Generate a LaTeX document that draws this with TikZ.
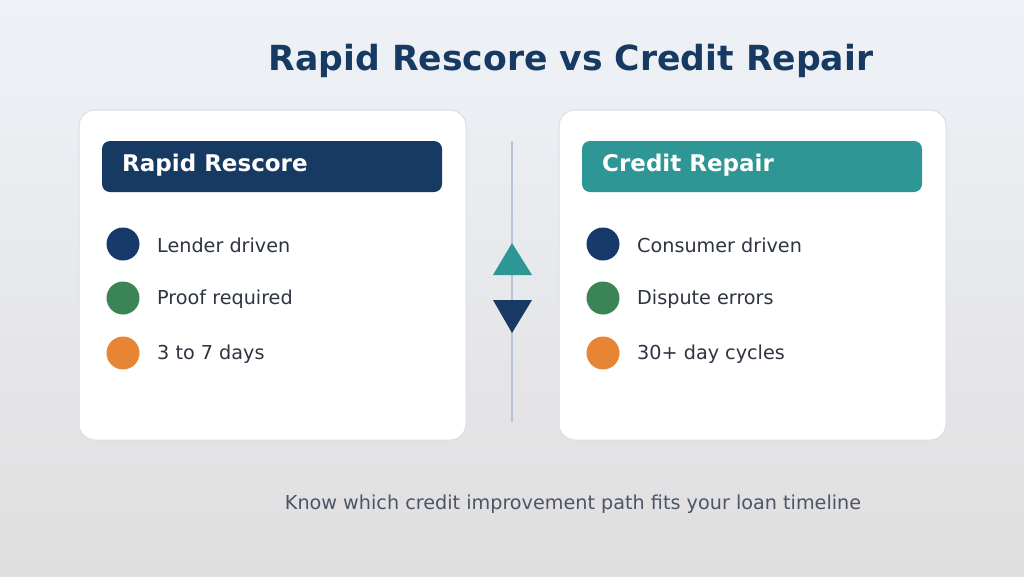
\documentclass[tikz,border=0pt]{standalone}
\usepackage{fontspec}
\setmainfont{DejaVu Sans}
\definecolor{bgtop}{HTML}{EEF2F7}
\definecolor{bgbot}{HTML}{E0DEDF}
\definecolor{navy}{HTML}{173A63}
\definecolor{teal}{HTML}{2E9694}
\definecolor{dotnavy}{HTML}{173A6A}
\definecolor{dotgreen}{HTML}{3A8456}
\definecolor{dotorange}{HTML}{E88535}
\definecolor{cardborder}{HTML}{D8DEE6}
\definecolor{divider}{HTML}{B8C4D4}
\definecolor{bodytext}{HTML}{2D3440}
\definecolor{subtext}{HTML}{4A5568}
\tikzset{
  card/.style={draw=cardborder, line width=1pt, fill=white, rounded corners=16pt},
  header/.style={rounded corners=8pt},
  headtext/.style={anchor=west, text=white, font=\fontsize{23}{27}\selectfont\bfseries, inner sep=0pt},
  dot/.style={circle, minimum size=33pt, inner sep=0pt},
  item/.style={anchor=west, text=bodytext, font=\fontsize{19.2}{23}\selectfont, inner sep=0pt},
}
\begin{document}
\begin{tikzpicture}[x=1pt,y=-1pt]
\shade[top color=bgtop, bottom color=bgbot] (0,0) rectangle (1024,576);
\useasboundingbox (0,0) rectangle (1024,576);
\node[text=navy, font=\fontsize{34.6}{40}\selectfont\bfseries] (title) at (571,61) {Rapid Rescore vs Credit Repair};
% cards
\path[card] (79,110) rectangle (466,440);
\path[card] (559,110) rectangle (946,440);
% headers
\path[header, fill=navy] (102,141) rectangle (442,192);
\path[header, fill=teal] (582,141) rectangle (922,192);
\node[headtext] (lh) at (122,165) {Rapid Rescore};
\node[headtext] (rh) at (602,165) {Credit Repair};
% left items
\node[dot, fill=dotnavy] (l1) at (123,244) {};
\node[dot, fill=dotgreen] (l2) at (123,298) {};
\node[dot, fill=dotorange] (l3) at (123,353) {};
\node[item] (lt1) at (157,245) {Lender driven};
\node[item] (lt2) at (157,299) {Proof required};
\node[item] (lt3) at (157,354) {3 to 7 days};
% right items
\node[dot, fill=dotnavy] (r1) at (603,244) {};
\node[dot, fill=dotgreen] (r2) at (603,298) {};
\node[dot, fill=dotorange] (r3) at (603,353) {};
\node[item] (rt1) at (637,245) {Consumer driven};
\node[item] (rt2) at (637,299) {Dispute errors};
\node[item] (rt3) at (637,354) {30+ day cycles};
% divider
\coordinate (dtop) at (512,141);
\coordinate (dbot) at (512,422);
\draw[divider, line width=2pt] (dtop) -- (dbot);
\fill[teal] (493,275) -- (512,243) -- (532,275) -- cycle;
\fill[navy] (493,300) -- (532,300) -- (512,333) -- cycle;
% bottom text
\node[text=subtext, font=\fontsize{19.2}{23}\selectfont] (foot) at (573,504) {Know which credit improvement path fits your loan timeline};
\end{tikzpicture}
\end{document}
